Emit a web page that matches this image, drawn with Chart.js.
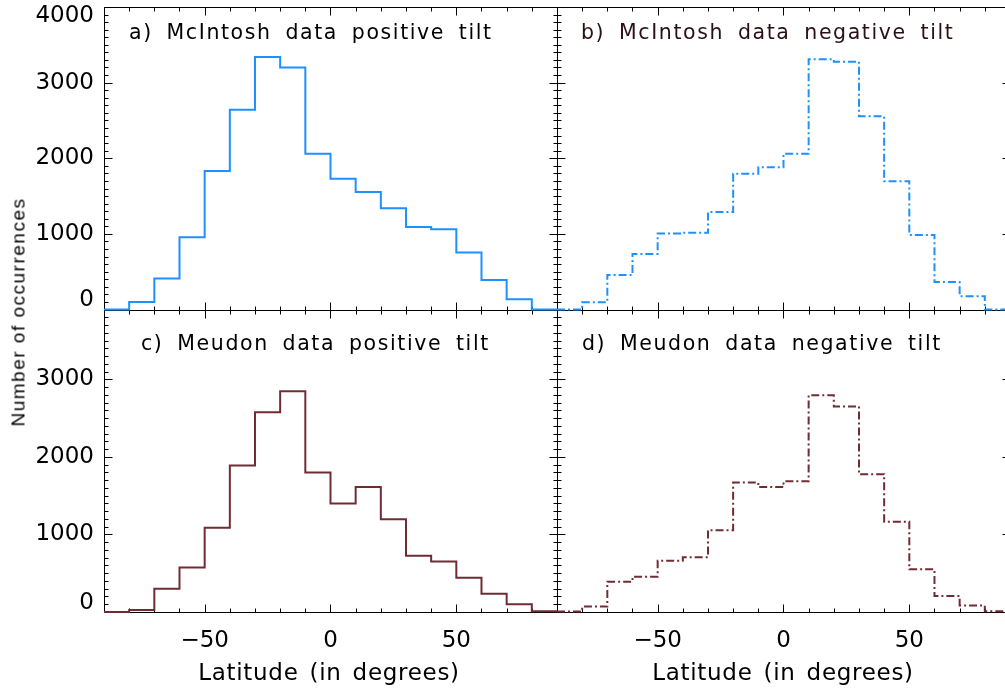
<!DOCTYPE html>
<html>
<head>
<meta charset="utf-8">
<script src="https://cdn.jsdelivr.net/npm/chart.js@4.4.1/dist/chart.umd.min.js"></script>
<style>
html, body { margin: 0; padding: 0; background: #fff; overflow: hidden; width: 1005px; height: 691px; }
#wrap { position: absolute; left: 0; top: -30px; width: 1012px; height: 721px; }
.lbl { position: absolute; font-family: "DejaVu Sans", sans-serif; white-space: nowrap; line-height: 1; color: #000; z-index: 2; }
.panel { font-size: 20.5px; letter-spacing: 1.6px; word-spacing: 5.7px; }
.xt { font-size: 23px; letter-spacing: 0.7px; word-spacing: 3px; transform: translateX(-50%); }
#ytitle { font-family: "Liberation Sans", sans-serif; font-size: 19px; letter-spacing: 1.5px; left: 17.5px; top: 312px; transform: translate(-50%, -50%) rotate(-90deg); }
</style>
</head>
<body>
<div id="wrap"><canvas id="chart" width="1012" height="721"></canvas></div>
<div class="lbl panel" style="left:129px; top:21.7px;">a) McIntosh data positive tilt</div>
<div class="lbl panel" style="left:581px; top:21.7px; color:#2a1012;">b) McIntosh data negative tilt</div>
<div class="lbl panel" style="left:141px; top:332.7px;">c) Meudon data positive tilt</div>
<div class="lbl panel" style="left:582px; top:332.7px;">d) Meudon data negative tilt</div>
<div class="lbl xt" style="left:329px; top:660.5px;">Latitude (in degrees)</div>
<div class="lbl xt" style="left:783px; top:660.5px;">Latitude (in degrees)</div>
<div class="lbl" id="ytitle">Number of occurrences</div>
<script>
// bin left edges (degrees), 10 degree bins
const lats = [-90, -80, -70, -60, -50, -40, -30, -20, -10, 0, 10, 20, 30, 40, 50, 60, 70, 80];
const binWidth = 10;

const mcintoshPos = [0, 100, 410, 955, 1830, 2640, 3340, 3200, 2060, 1730, 1555, 1340, 1090, 1060, 755, 390, 135, 0];
const mcintoshNeg = [0, 95, 455, 735, 1005, 1015, 1290, 1795, 1880, 2060, 3310, 3275, 2555, 1695, 985, 365, 175, 0];
const meudonPos = [0, 25, 300, 575, 1085, 1890, 2575, 2845, 1800, 1400, 1610, 1195, 725, 650, 440, 235, 100, 10];
const meudonNeg = [5, 70, 390, 455, 660, 705, 1055, 1670, 1610, 1685, 2795, 2650, 1775, 1165, 550, 205, 85, 10];

const latTicks = [-50, 0, 50];
const countTicksTop = [0, 1000, 2000, 3000, 4000];
const countTicksBottom = [0, 1000, 2000, 3000];

const blue = '#1e90ff';
const maroon = '#702c33';

function steps(vals) {
    const pts = lats.map((x, i) => ({ x: x, y: vals[i] }));
    pts.push({ x: lats[lats.length - 1] + binWidth, y: vals[vals.length - 1] });
    return pts;
}

function latLabel(v) {
    return v < 0 ? '\u2212' + Math.abs(v) : String(v);
}

// IDL style frame: box round each panel, inward ticks on all four sides
const frameTicks = {
    id: 'frameTicks',
    beforeDatasetsDraw(chart) {
        const ctx = chart.ctx;
        const s = chart.scales;
        ctx.save();
        ctx.strokeStyle = '#000';
        ctx.lineWidth = 1;
        [s.xL, s.xR].forEach(xs => {
            [s.yT, s.yB].forEach(ys => {
                const l = Math.round(xs.left) + 0.5, r = Math.round(xs.right) + 0.5;
                const t = Math.round(ys.top) + 0.5, b = Math.round(ys.bottom) + 0.5;
                ctx.beginPath();
                ctx.rect(l, t, r - l, b - t);
                for (let v = xs.min; v <= xs.max; v += 10) {
                    const px = Math.round(xs.getPixelForValue(v)) + 0.5;
                    const len = v % 50 === 0 ? 8 : 4;
                    ctx.moveTo(px, b); ctx.lineTo(px, b - len);
                    ctx.moveTo(px, t); ctx.lineTo(px, t + len);
                }
                for (let v = ys.min; v <= ys.max; v += 100) {
                    const py = Math.round(ys.getPixelForValue(v)) + 0.5;
                    const len = v % 1000 === 0 ? 8 : 4;
                    ctx.moveTo(l, py); ctx.lineTo(l + len, py);
                    ctx.moveTo(r, py); ctx.lineTo(r - len, py);
                }
                ctx.stroke();
            });
        });
        ctx.restore();
    }
};

const xFont = { family: 'DejaVu Sans', size: 23, lineHeight: 1.2 };
const yFont = { family: 'DejaVu Sans', size: 23, lineHeight: 0.8 };

function xAxis(weight) {
    return {
        type: 'linear', position: 'bottom', stack: 'cols', stackWeight: 1, weight: weight,
        min: -90, max: 90,
        grid: { display: false, drawTicks: false },
        border: { display: false },
        afterBuildTicks: s => { s.ticks = latTicks.map(v => ({ value: v })); },
        afterFit: s => { s.height = 79; },
        ticks: { font: xFont, color: '#000', padding: 15, maxRotation: 0, autoSkip: false, callback: v => latLabel(v) }
    };
}

function yAxis(weight, max, tickVals) {
    return {
        type: 'linear', position: 'left', stack: 'rows', stackWeight: 1, weight: weight,
        min: 0, max: max,
        grid: { display: false, drawTicks: false },
        border: { display: false },
        afterBuildTicks: s => { s.ticks = tickVals.map(v => ({ value: v })); },
        afterFit: s => { s.width = 104; },
        ticks: {
            font: yFont, color: '#000', padding: 10, autoSkip: false,
            // end labels pushed inside the frame
            callback: v => v === 4000 ? ['', '4000'] : (v === 0 ? ['0', ''] : String(v))
        }
    };
}

const common = { borderWidth: 2, stepped: 'before', pointRadius: 0, fill: false, clip: 2 };

new Chart(document.getElementById('chart'), {
    type: 'line',
    data: {
        datasets: [
            Object.assign({ label: 'a', data: steps(mcintoshPos), xAxisID: 'xL', yAxisID: 'yT', borderColor: blue }, common),
            Object.assign({ label: 'b', data: steps(mcintoshNeg), xAxisID: 'xR', yAxisID: 'yT', borderColor: blue, borderDash: [8, 3, 2, 3] }, common),
            Object.assign({ label: 'c', data: steps(meudonPos), xAxisID: 'xL', yAxisID: 'yB', borderColor: maroon }, common),
            Object.assign({ label: 'd', data: steps(meudonNeg), xAxisID: 'xR', yAxisID: 'yB', borderColor: maroon, borderDash: [8, 3, 2, 3] }, common)
        ]
    },
    options: {
        responsive: false,
        animation: false,
        events: [],
        devicePixelRatio: 1,
        layout: { padding: { left: 0, right: 2, top: 37, bottom: 0 } },
        plugins: { legend: { display: false }, tooltip: { enabled: false } },
        scales: {
            xL: xAxis(0),
            xR: xAxis(1),
            yT: yAxis(1, 4000, countTicksTop),
            yB: yAxis(0, 3900, countTicksBottom)
        }
    },
    plugins: [frameTicks]
});
</script>
</body>
</html>
